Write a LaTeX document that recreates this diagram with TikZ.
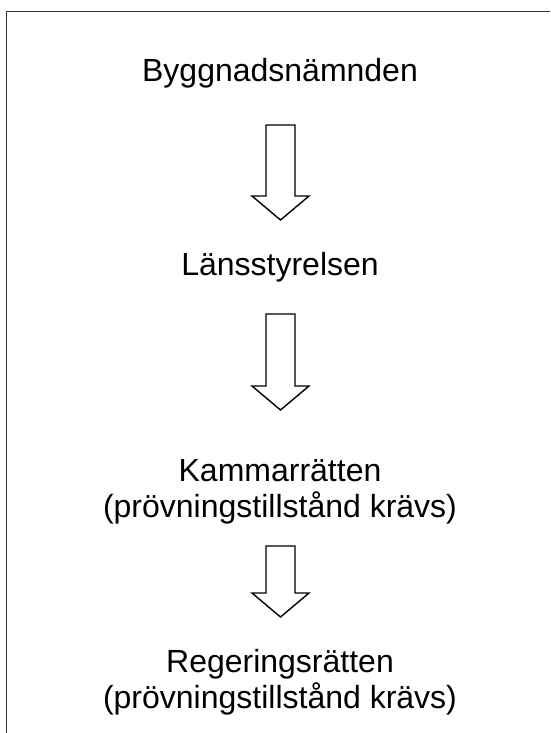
\documentclass[tikz,border=0pt]{standalone}
\usepackage{fontspec}
\setmainfont{Liberation Sans}
\usetikzlibrary{calc}
\begin{document}
\begin{tikzpicture}[x=1pt,y=-1pt,
  lbl/.style={anchor=base,inner sep=0pt,align=center,font=\fontsize{32}{36}\selectfont},
  blockarrow/.style={draw=black,line width=1.4pt,fill=white,line join=miter},
  frame/.style={draw=black!80,line width=1.6pt}]
\useasboundingbox (0,0) rectangle (550,733);
\draw[frame] (6.5,733) -- (6.5,11.5) -- (550,11.5);
\node[lbl] (bn) at (280,82) {Byggnadsnämnden};
\node[lbl] (ls) at (280,275) {Länsstyrelsen};
\node[lbl] (kr) at (280,517) {Kammarrätten\\(prövningstillstånd krävs)};
\node[lbl] (rr) at (280,708) {Regeringsrätten\\(prövningstillstånd krävs)};
% #1 = top of shaft, #2 = shaft length
\newcommand{\blockarr}[2]{%
  \draw[blockarrow] ($(#1)+(-14.5,0)$) -- ($(#1)+(14.5,0)$) -- ($(#1)+(14.5,#2)$) -- ($(#1)+(28.5,#2)$) -- ($(#1)+(0,#2+24)$) -- ($(#1)+(-28.5,#2)$) -- ($(#1)+(-14.5,#2)$) -- cycle;}
\coordinate (a1) at (280.5,125);
\coordinate (a2) at (280.5,314);
\coordinate (a3) at (280.5,546);
\blockarr{a1}{71}
\blockarr{a2}{72}
\blockarr{a3}{47}
\end{tikzpicture}
\end{document}
